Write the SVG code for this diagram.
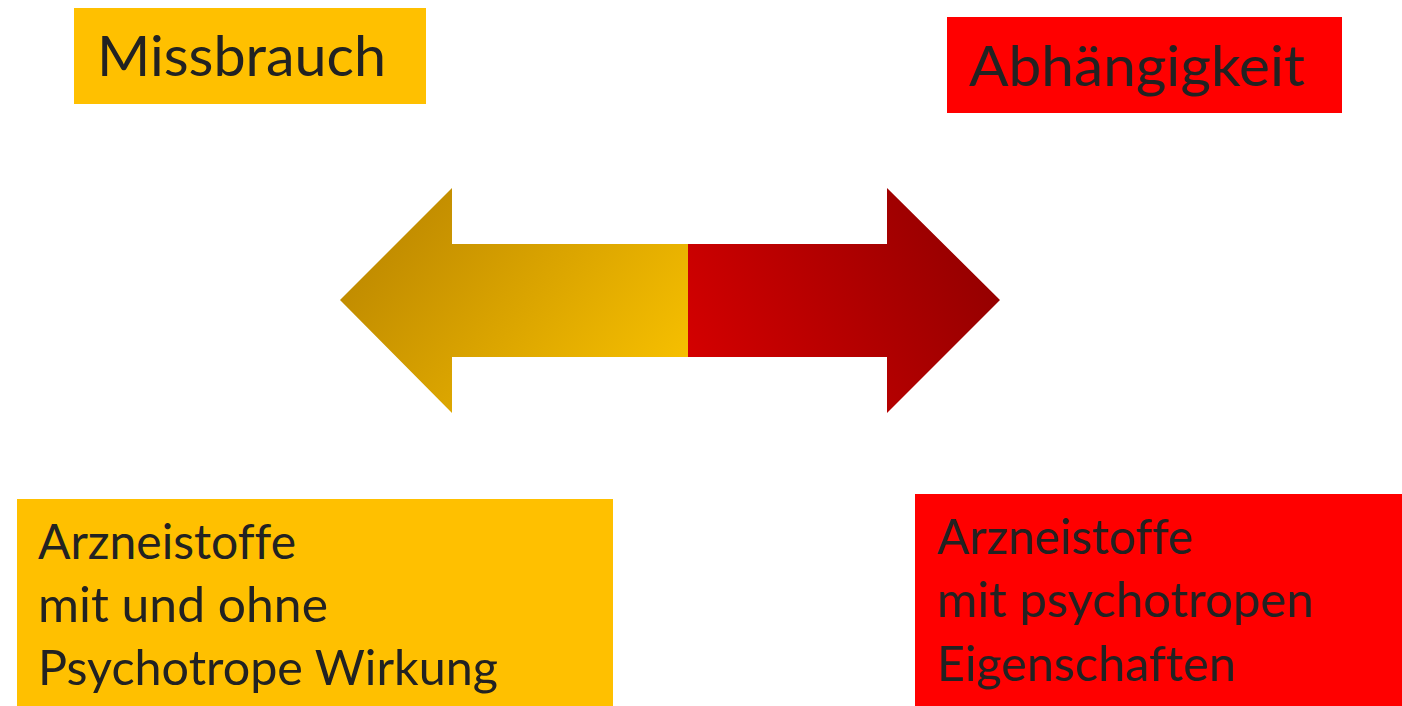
<svg xmlns="http://www.w3.org/2000/svg" width="1402" height="706" viewBox="0 0 1402 706">
<style>
.lbl{font-family:Lato,"Open Sans","Noto Sans",sans-serif;fill:#222222;font-variant-ligatures:none}
.big{font-size:57px}
.mid{font-size:48px}
.y{fill:#FFC000}
.r{fill:#FF0000}
</style>
<defs>
<linearGradient id="gGold" gradientUnits="userSpaceOnUse" x1="410" y1="190" x2="660" y2="400">
<stop offset="0" stop-color="#BF8A00"/>
<stop offset="1" stop-color="#F7C000"/>
</linearGradient>
<linearGradient id="gRed" gradientUnits="userSpaceOnUse" x1="688" y1="360" x2="965" y2="220">
<stop offset="0" stop-color="#D40000"/>
<stop offset="1" stop-color="#950000"/>
</linearGradient>
</defs>
<rect width="1402" height="706" fill="#FFFFFF"/>
<g id="missbrauch">
<rect class="y" x="74" y="8" width="352" height="96"/>
<text class="lbl big" x="97" y="76" textLength="289" lengthAdjust="spacingAndGlyphs">Missbrauch</text>
</g>
<g id="abhaengigkeit">
<rect class="r" x="947" y="17" width="395" height="96"/>
<text class="lbl big" x="969" y="86" textLength="336" lengthAdjust="spacingAndGlyphs">Abhängigkeit</text>
</g>
<g id="connectors">
<g id="arrow">
<polygon points="688,244 452,244 452,188 340,300 452,413 452,357 688,357" fill="url(#gGold)"/>
<polygon points="688,244 887,244 887,188 1000,300 887,413 887,357 688,357" fill="url(#gRed)"/>
</g>
</g>
<g id="arzneistoffe-missbrauch">
<rect class="y" x="17" y="499" width="596" height="207"/>
<text class="lbl mid" x="38" y="559" textLength="258" lengthAdjust="spacingAndGlyphs">Arzneistoffe</text>
<text class="lbl mid" x="38" y="622" textLength="290" lengthAdjust="spacingAndGlyphs">mit und ohne</text>
<text class="lbl mid" x="38" y="685" textLength="460" lengthAdjust="spacingAndGlyphs">Psychotrope Wirkung</text>
</g>
<g id="arzneistoffe-abhaengigkeit">
<rect class="r" x="915" y="494" width="487" height="212"/>
<text class="lbl mid" x="937" y="554" textLength="256" lengthAdjust="spacingAndGlyphs">Arzneistoffe</text>
<text class="lbl mid" x="937" y="617" textLength="377" lengthAdjust="spacingAndGlyphs">mit psychotropen</text>
<text class="lbl mid" x="937" y="681" textLength="299" lengthAdjust="spacingAndGlyphs">Eigenschaften</text>
</g>
</svg>
